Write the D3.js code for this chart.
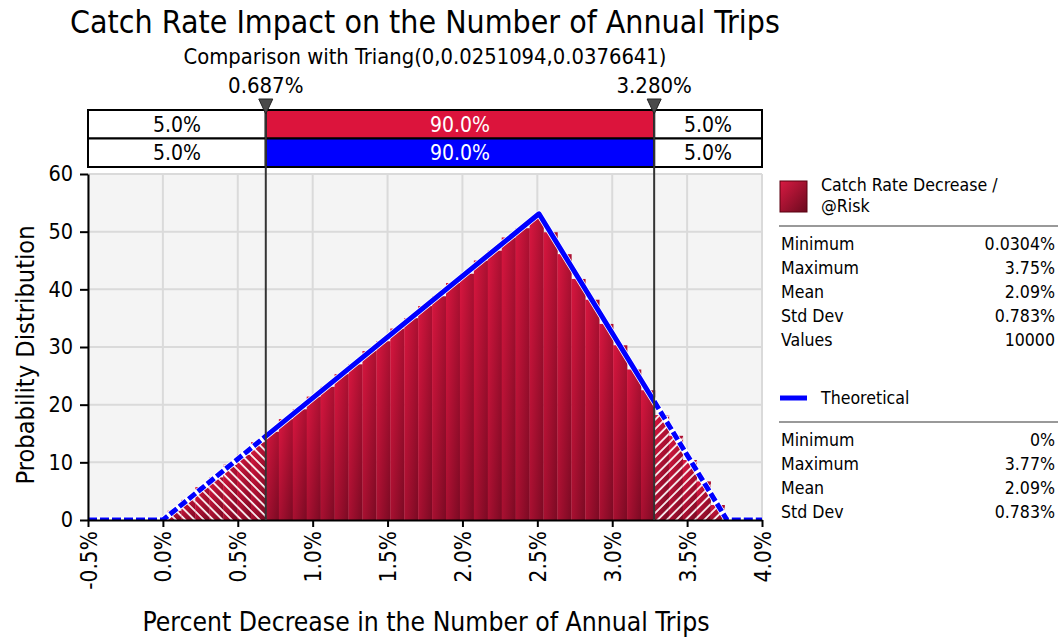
<!DOCTYPE html>
<html>
<head>
<meta charset="utf-8">
<script src="https://cdn.jsdelivr.net/npm/d3@7"></script>
<style>
  body { margin: 0; background: #fff; }
  svg text { font-family: "DejaVu Sans Condensed", "DejaVu Sans", sans-serif; fill: #000; }
</style>
</head>
<body>
<svg id="chart" width="1060" height="638"></svg>
<script>
// Simulated output: 40 equal-width bins between the sample min and max (values in %)
const binStart = 0.0304;
const binEnd = 3.75;
const density = [
  1.6, 3.5, 5.7, 7.4, 9.6, 11.3, 13.5, 15.3, 17.5, 19.2,
  21.4, 23.1, 25.3, 27.0, 29.3, 31.0, 33.2, 35.0, 37.1, 38.8,
  41.1, 42.7, 45.0, 46.7, 49.0, 50.6, 52.4, 49.9, 46.1, 41.8,
  38.2, 34.0, 30.3, 26.1, 22.5, 18.2, 14.6, 10.4, 6.7, 2.6
];

// Theoretical Triang(0, 0.0251094, 0.0376641) overlay, vertices in %
const theoX = [-0.5, 0, 2.51094, 3.76641, 4.0];
const theoY = [0, 0, 53.1, 0, 0];

// 5% / 95% delimiters
const delimiters = [0.687, 3.280];
const delimLabels = ["0.687%", "3.280%"];
const simBands = ["5.0%", "90.0%", "5.0%"];
const theoBands = ["5.0%", "90.0%", "5.0%"];

const xTicks = [-0.5, 0.0, 0.5, 1.0, 1.5, 2.0, 2.5, 3.0, 3.5, 4.0];
const yTicks = [0, 10, 20, 30, 40, 50, 60];

const simStatNames = ["Minimum", "Maximum", "Mean", "Std Dev", "Values"];
const simStatValues = ["0.0304%", "3.75%", "2.09%", "0.783%", "10000"];
const theoStatNames = ["Minimum", "Maximum", "Mean", "Std Dev"];
const theoStatValues = ["0%", "3.77%", "2.09%", "0.783%"];

const titleText = "Catch Rate Impact on the Number of Annual Trips";
const subtitleText = "Comparison with Triang(0,0.0251094,0.0376641)";
const xTitle = "Percent Decrease in the Number of Annual Trips";
const yTitle = "Probability Distribution";
const simName = ["Catch Rate Decrease /", "@Risk"];
const theoName = "Theoretical";

const FONT = '"DejaVu Sans Condensed", "DejaVu Sans", sans-serif';
const svg = d3.select("#chart");

const plot = { left: 88, right: 762, top: 174, bottom: 520 };
const x = d3.scaleLinear().domain([-0.5, 4.0]).range([plot.left, plot.right]);
const y = d3.scaleLinear().domain([0, 60]).range([plot.bottom, plot.top]);

const defs = svg.append("defs");

// bar shading
const barGrad = defs.append("linearGradient").attr("id", "barGrad")
  .attr("x1", 0).attr("y1", 0).attr("x2", 1).attr("y2", 1);
barGrad.append("stop").attr("offset", "0%").attr("stop-color", "#d8163f");
barGrad.append("stop").attr("offset", "100%").attr("stop-color", "#7a0a23");

const swatchGrad = defs.append("linearGradient").attr("id", "swatchGrad")
  .attr("x1", 0).attr("y1", 0).attr("x2", 1).attr("y2", 1);
swatchGrad.append("stop").attr("offset", "0%").attr("stop-color", "#d81a42");
swatchGrad.append("stop").attr("offset", "100%").attr("stop-color", "#6a0a1e");

// tail hatching
function hatch(id, angle) {
  const p = defs.append("pattern").attr("id", id)
    .attr("patternUnits", "userSpaceOnUse")
    .attr("width", 6.6).attr("height", 6.6)
    .attr("patternTransform", `rotate(${angle})`);
  p.append("line").attr("x1", 1).attr("y1", 0).attr("x2", 1).attr("y2", 6.6)
    .attr("stroke", "#fff").attr("stroke-width", 1.8).attr("stroke-opacity", 0.95);
}
hatch("hatchL", -45);
hatch("hatchR", 45);

const xd0 = x(delimiters[0]), xd1 = x(delimiters[1]);
defs.append("clipPath").attr("id", "clipL").append("rect")
  .attr("x", plot.left).attr("y", plot.top - 10).attr("width", xd0 - plot.left).attr("height", plot.bottom - plot.top + 10);
defs.append("clipPath").attr("id", "clipR").append("rect")
  .attr("x", xd1).attr("y", plot.top - 10).attr("width", plot.right - xd1).attr("height", plot.bottom - plot.top + 10);
defs.append("clipPath").attr("id", "clipMid").append("rect")
  .attr("x", xd0).attr("y", plot.top - 10).attr("width", xd1 - xd0).attr("height", plot.bottom - plot.top + 10);
defs.append("clipPath").attr("id", "clipTails").selectAll("rect")
  .data([[plot.left, xd0], [xd1, plot.right]]).join("rect")
  .attr("x", d => d[0]).attr("y", plot.top - 10).attr("width", d => d[1] - d[0]).attr("height", plot.bottom - plot.top + 10);

// plot background + grid
svg.append("rect").attr("x", plot.left).attr("y", plot.top - 1)
  .attr("width", plot.right - plot.left).attr("height", plot.bottom - plot.top + 1)
  .attr("fill", "#f4f4f4");

const grid = svg.append("g").attr("stroke", "#dadada").attr("stroke-width", 2);
grid.selectAll("line.v").data(xTicks).join("line").attr("class", "v")
  .attr("x1", d => x(d)).attr("x2", d => x(d)).attr("y1", plot.top).attr("y2", plot.bottom);
grid.selectAll("line.h").data(yTicks.slice(1)).join("line").attr("class", "h")
  .attr("x1", plot.left).attr("x2", plot.right).attr("y1", d => y(d)).attr("y2", d => y(d));

// histogram bars
const binW = (binEnd - binStart) / density.length;
const bins = density.map((v, i) => ({ x0: binStart + i * binW, x1: binStart + (i + 1) * binW, v }));

svg.append("g").selectAll("rect").data(bins).join("rect")
  .attr("x", d => x(d.x0)).attr("width", d => x(d.x1) - x(d.x0) + 0.3)
  .attr("y", d => y(d.v)).attr("height", d => y(0) - y(d.v))
  .attr("fill", "url(#barGrad)");

svg.append("g").attr("clip-path", "url(#clipL)").selectAll("rect").data(bins).join("rect")
  .attr("x", d => x(d.x0)).attr("width", d => x(d.x1) - x(d.x0))
  .attr("y", d => y(d.v)).attr("height", d => y(0) - y(d.v))
  .attr("fill", "url(#hatchL)");
svg.append("g").attr("clip-path", "url(#clipR)").selectAll("rect").data(bins).join("rect")
  .attr("x", d => x(d.x0)).attr("width", d => x(d.x1) - x(d.x0))
  .attr("y", d => y(d.v)).attr("height", d => y(0) - y(d.v))
  .attr("fill", "url(#hatchR)");

// theoretical curve: solid between the delimiters, dashed in the tails
defs.append("clipPath").attr("id", "clipPlot").append("rect")
  .attr("x", plot.left).attr("y", plot.top - 10).attr("width", plot.right - plot.left).attr("height", plot.bottom - plot.top + 10);
const theo = theoX.map((v, i) => [v, theoY[i]]);
const line = d3.line().x(d => x(d[0])).y(d => y(d[1]));
const curve = svg.append("g").attr("clip-path", "url(#clipPlot)");
curve.append("path").attr("d", line(theo)).attr("fill", "none")
  .attr("stroke", "#fff").attr("stroke-width", 6.5).attr("stroke-linejoin", "round");
curve.append("g").attr("clip-path", "url(#clipMid)").append("path").attr("d", line(theo))
  .attr("fill", "none").attr("stroke", "#0000ff").attr("stroke-width", 5).attr("stroke-linejoin", "round");
curve.append("g").attr("clip-path", "url(#clipTails)").append("path").attr("d", line(theo))
  .attr("fill", "none").attr("stroke", "#0000ff").attr("stroke-width", 5)
  .attr("stroke-dasharray", "9,3");

// axes
const xAxis = svg.append("g").attr("transform", `translate(0,${plot.bottom})`)
  .call(d3.axisBottom(x).tickValues(xTicks).tickSize(7).tickSizeOuter(0)
    .tickFormat(d => d.toFixed(1) + "%"));
xAxis.attr("font-family", FONT).attr("font-size", 22.5);
xAxis.select(".domain").attr("stroke", "#000").attr("stroke-width", 2);
xAxis.selectAll(".tick line").attr("stroke", "#000").attr("stroke-width", 2);
xAxis.selectAll(".tick text").attr("transform", "rotate(-90)")
  .attr("text-anchor", "end").attr("x", -11).attr("y", 0).attr("dy", "0.36em").attr("fill", "#000");

const yAxis = svg.append("g").attr("transform", `translate(${plot.left},0)`)
  .call(d3.axisLeft(y).tickValues(yTicks).tickSize(8).tickPadding(7).tickSizeOuter(0));
yAxis.attr("font-family", FONT).attr("font-size", 21.5);
yAxis.select(".domain").attr("stroke", "#000").attr("stroke-width", 2);
yAxis.selectAll(".tick line").attr("stroke", "#000").attr("stroke-width", 2);
yAxis.selectAll(".tick text").attr("fill", "#000");

// delimiter band boxes
const rowTop = [110, 138.5], rowH = 28.5;
const segs = [[plot.left, xd0], [xd0, xd1], [xd1, plot.right]];
const rows = [{ labels: simBands, fill: "#dc143c" }, { labels: theoBands, fill: "#0000ff" }];
rows.forEach((r, ri) => {
  const g = svg.append("g");
  g.selectAll("rect").data(segs).join("rect")
    .attr("x", d => d[0]).attr("y", rowTop[ri]).attr("width", d => d[1] - d[0]).attr("height", rowH)
    .attr("fill", (d, i) => i === 1 ? r.fill : "#fff")
    .attr("stroke", "#000").attr("stroke-width", 2);
  g.selectAll("text").data(segs).join("text")
    .attr("x", d => (d[0] + d[1]) / 2).attr("y", rowTop[ri] + rowH / 2 + 7.5)
    .attr("text-anchor", "middle").attr("font-size", 21)
    .style("fill", (d, i) => i === 1 ? "#fff" : "#000")
    .text((d, i) => r.labels[i]);
});

// delimiter lines, markers and labels
const dl = svg.append("g");
dl.selectAll("line").data(delimiters).join("line")
  .attr("x1", d => x(d)).attr("x2", d => x(d)).attr("y1", 104).attr("y2", plot.bottom)
  .attr("stroke", "#333").attr("stroke-width", 2);
dl.selectAll("path").data(delimiters).join("path")
  .attr("d", d => `M${x(d) - 7},99 L${x(d) + 7},99 L${x(d)},114 Z`)
  .attr("fill", "#4a4a4a").attr("stroke", "#222").attr("stroke-width", 1);
dl.selectAll("text").data(delimiters).join("text")
  .attr("x", d => x(d)).attr("y", 93).attr("text-anchor", "middle").attr("font-size", 22)
  .text((d, i) => delimLabels[i]);

// titles
svg.append("text").attr("x", 425).attr("y", 33).attr("text-anchor", "middle")
  .attr("font-size", 31.8).text(titleText);
svg.append("text").attr("x", 425).attr("y", 64).attr("text-anchor", "middle")
  .attr("font-size", 21.8).text(subtitleText);
svg.append("text").attr("x", 426).attr("y", 631).attr("text-anchor", "middle")
  .attr("font-size", 26.3).text(xTitle);
svg.append("text").attr("transform", `translate(34,355) rotate(-90)`)
  .attr("text-anchor", "middle").attr("font-size", 25.2).text(yTitle);

// legend
const lg = svg.append("g").attr("font-size", 17.6);
lg.append("rect").attr("x", 780).attr("y", 181).attr("width", 27).attr("height", 31)
  .attr("fill", "url(#swatchGrad)").attr("stroke", "#5a0010").attr("stroke-width", 1);
lg.selectAll("text.sn").data(simName).join("text").attr("class", "sn")
  .attr("x", 821).attr("y", (d, i) => 191 + i * 21).text(d => d);
lg.append("line").attr("x1", 779).attr("x2", 1058).attr("y1", 226).attr("y2", 226)
  .attr("stroke", "#999").attr("stroke-width", 2);
lg.selectAll("text.sk").data(simStatNames).join("text").attr("class", "sk")
  .attr("x", 781).attr("y", (d, i) => 250 + i * 24).text(d => d);
lg.selectAll("text.sv").data(simStatValues).join("text").attr("class", "sv")
  .attr("x", 1055).attr("y", (d, i) => 250 + i * 24).attr("text-anchor", "end").text(d => d);

lg.append("line").attr("x1", 780).attr("x2", 807).attr("y1", 398).attr("y2", 398)
  .attr("stroke", "#0000ff").attr("stroke-width", 5);
lg.append("text").attr("x", 821).attr("y", 404).text(theoName);
lg.append("line").attr("x1", 779).attr("x2", 1058).attr("y1", 422).attr("y2", 422)
  .attr("stroke", "#999").attr("stroke-width", 2);
lg.selectAll("text.tk").data(theoStatNames).join("text").attr("class", "tk")
  .attr("x", 781).attr("y", (d, i) => 446 + i * 24).text(d => d);
lg.selectAll("text.tv").data(theoStatValues).join("text").attr("class", "tv")
  .attr("x", 1055).attr("y", (d, i) => 446 + i * 24).attr("text-anchor", "end").text(d => d);
</script>
</body>
</html>
